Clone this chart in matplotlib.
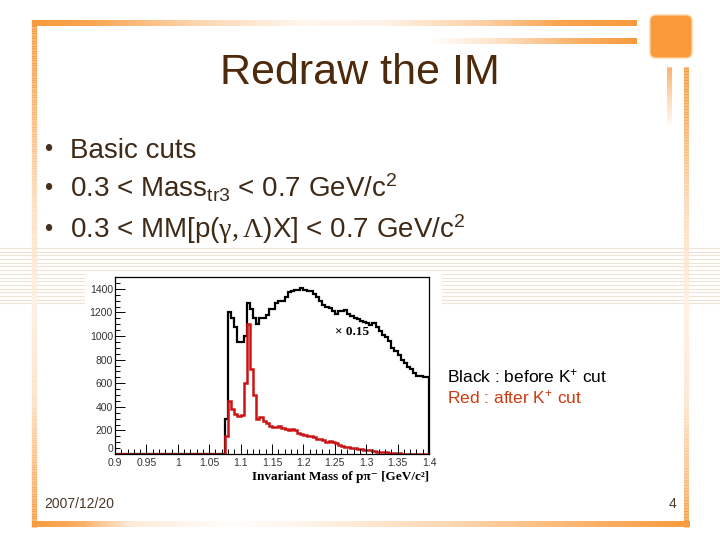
import numpy as np
import matplotlib
matplotlib.use("Agg")
import matplotlib.pyplot as plt
from matplotlib.collections import LineCollection
from matplotlib.patches import FancyBboxPatch, Rectangle
from matplotlib.ticker import MultipleLocator

plt.rcParams['font.family'] = ['Liberation Sans', 'DejaVu Sans']
plt.rcParams['mathtext.fontset'] = 'custom'
plt.rcParams['mathtext.rm'] = 'Liberation Sans'
plt.rcParams['mathtext.it'] = 'Liberation Sans:italic'
plt.rcParams['mathtext.bf'] = 'Liberation Sans:bold'
plt.rcParams['mathtext.sf'] = 'Liberation Serif'

# ---------------- data ----------------
bin_edges = np.round(np.linspace(0.9, 1.4, 101), 4)
black_nonzero = [300, 1200, 1150, 1080, 950, 950, 1000, 1280, 1230, 1150, 1100,
                 1150, 1150, 1180, 1230, 1230, 1280, 1300, 1300, 1330, 1370,
                 1380, 1390, 1390, 1410, 1390, 1380, 1380, 1360, 1330, 1300,
                 1260, 1250, 1240, 1210, 1190, 1210, 1210, 1220, 1190, 1170,
                 1150, 1140, 1130, 1120, 1110, 1090, 1110, 1080, 1040, 1010,
                 990, 960, 900, 870, 840, 800, 770, 740, 720, 690, 660, 660,
                 650, 650]
red_nonzero = [150, 450, 380, 340, 320, 330, 600, 1100, 720, 500, 300, 310, 280,
               260, 240, 230, 230, 240, 220, 210, 200, 210, 200, 180, 170, 160,
               150, 150, 140, 130, 125, 120, 100, 110, 100, 90, 80, 70, 60, 60,
               50, 50, 40, 40, 35, 30, 30, 25, 20, 20, 15, 15, 10, 10, 8, 5,
               4, 3, 3, 2, 2, 2, 1, 1, 1]
black_counts = [0] * (100 - len(black_nonzero)) + black_nonzero
red_counts = [0] * (100 - len(red_nonzero)) + red_nonzero

x_ticks = [0.9, 0.95, 1.0, 1.05, 1.1, 1.15, 1.2, 1.25, 1.3, 1.35, 1.4]
x_ticklabels = ["0.9", "0.95", "1", "1.05", "1.1", "1.15", "1.2", "1.25", "1.3", "1.35", "1.4"]
y_ticks = [0, 200, 400, 600, 800, 1000, 1200, 1400]

title = "Redraw the IM"
bullets = ["Basic cuts",
           r"0.3 < Mass$_{\mathrm{tr3}}$ < 0.7 GeV/c$^{2}$",
           r"0.3 < MM[p($\mathsf{\gamma,\Lambda}$)X] < 0.7 GeV/c$^{2}$"]

# ---------------- figure ----------------
fig = plt.figure(figsize=(7.2, 5.4), dpi=100)
fig.patch.set_facecolor('white')
bg = fig.add_axes([0, 0, 1, 1], zorder=0)
bg.set_xlim(0, 720)
bg.set_ylim(540, 0)
bg.axis('off')

ORANGE = np.array([248, 154, 60]) / 255.0
WHITE = np.ones(3)


def grad_line(x0, y0, x1, y1, pos, alph, lw, n=300):
    t = np.linspace(0, 1, n + 1)
    xs = x0 + (x1 - x0) * t
    ys = y0 + (y1 - y0) * t
    coord = xs if abs(x1 - x0) > abs(y1 - y0) else ys
    a = np.interp(coord, pos, alph)
    cols = [tuple(WHITE * (1 - ai) + ORANGE * ai) for ai in (a[:-1] + a[1:]) / 2]
    segs = [[(xs[i], ys[i]), (xs[i + 1], ys[i + 1])] for i in range(n)]
    lc = LineCollection(segs, colors=cols, linewidths=lw, capstyle='butt', zorder=1)
    bg.add_collection(lc)

# stripes band
for yy in np.arange(248, 306, 3.7):
    bg.plot([0, 720], [yy, yy], color='#ede4d6', lw=0.8, zorder=0.5)

# frame
grad_line(32, 22.5, 637, 22.5, [32, 90, 200, 300, 380, 480, 560, 637],
          [1, 0.9, 0.4, 0.1, 0.12, 0.45, 0.9, 1], 4.3)
grad_line(430, 40.5, 637, 40.5, [430, 500, 580, 637], [0.0, 0.3, 0.8, 1], 4.3)
grad_line(34, 20, 34, 527, [20, 80, 200, 300, 400, 470, 527],
          [1, 0.85, 0.35, 0.15, 0.3, 0.7, 1], 3.8)
grad_line(32, 524, 690, 524, [32, 80, 130, 230, 300, 450, 600, 690],
          [1, 0.8, 0.2, 0.02, 0.1, 0.4, 0.8, 1], 4.3)
grad_line(686, 67, 686, 527, [67, 120, 200, 300, 400, 470, 527],
          [1, 0.8, 0.4, 0.15, 0.25, 0.6, 1], 3.6)
grad_line(669, 67, 669, 125, [67, 90, 125], [1, 0.6, 0.05], 3.6)
bg.add_patch(FancyBboxPatch((650, 15), 42, 43, boxstyle="round,pad=0,rounding_size=6",
                            facecolor='#f99b3b', edgecolor='#fcd3a3', lw=1.0, zorder=2))

# white image box behind histogram
bg.add_patch(Rectangle((85, 272), 357, 218, facecolor='white', edgecolor='none', zorder=0.8))

# texts
bg.text(360, 84, title, fontsize=31, color='#4e2a0c', ha='center', va='baseline', zorder=3)
ys_b = [158, 197, 238]
for yb, s in zip(ys_b, bullets):
    bg.text(48.5, yb - 8, "\u2022", fontsize=17, color='#4a2f1a', ha='center', va='center', zorder=3)
    bg.text(70, yb, s, fontsize=20, color='#3f2a18', ha='left', va='baseline', zorder=3)

bg.text(447, 376, r"Black : before K$^{+}$ cut", fontsize=12.5, color='black',
        ha='left', va='center', zorder=3)
bg.text(447, 397, r"Red : after K$^{+}$ cut", fontsize=12.5, color='#d03a12',
        ha='left', va='center', zorder=3)
bg.text(44, 504, "2007/12/20", fontsize=10, color='#4a3828', ha='left', va='center', zorder=3)
bg.text(676, 504, "4", fontsize=10, color='#4a3828', ha='right', va='center', zorder=3)

# ---------------- histogram ----------------
ax = fig.add_axes([115 / 720, 1 - 454 / 540, (429 - 115) / 720, (454 - 277) / 540], zorder=2)
ax.set_facecolor('white')
ax.stairs(black_counts, bin_edges, color='black', lw=1.6, baseline=0)
ax.stairs(red_counts, bin_edges, color='#cc1414', lw=1.8, baseline=0)
ax.set_xlim(0.9, 1.4)
ax.set_ylim(0, 1500)
ax.set_xticks(x_ticks)
ax.set_xticklabels(x_ticklabels)
ax.set_yticks(y_ticks)
ax.xaxis.set_minor_locator(MultipleLocator(0.01))
ax.yaxis.set_minor_locator(MultipleLocator(50))
ax.tick_params(which='both', direction='in', labelsize=7.5, labelcolor='#333333',
               top=False, right=False, width=0.7)
ax.tick_params(which='major', length=7, pad=1.5)
ax.tick_params(axis='x', which='major', pad=3)
ax.tick_params(which='minor', length=3.5)
ax.get_yticklabels()[0].set_verticalalignment('bottom')
for sp in ax.spines.values():
    sp.set_linewidth(0.9)
ax.text(1.25, 1035, "\u00d7 0.15", fontsize=9.5, fontweight='bold',
        family=['Liberation Serif', 'DejaVu Serif'], ha='left', va='center')
ax.set_xlabel("Invariant Mass of p\u03c0\u207b [GeV/c\u00b2]", fontsize=9.5, fontweight='bold',
              family=['Liberation Serif', 'DejaVu Serif'], loc='right', labelpad=2)

fig.savefig("out.png", dpi=100)
